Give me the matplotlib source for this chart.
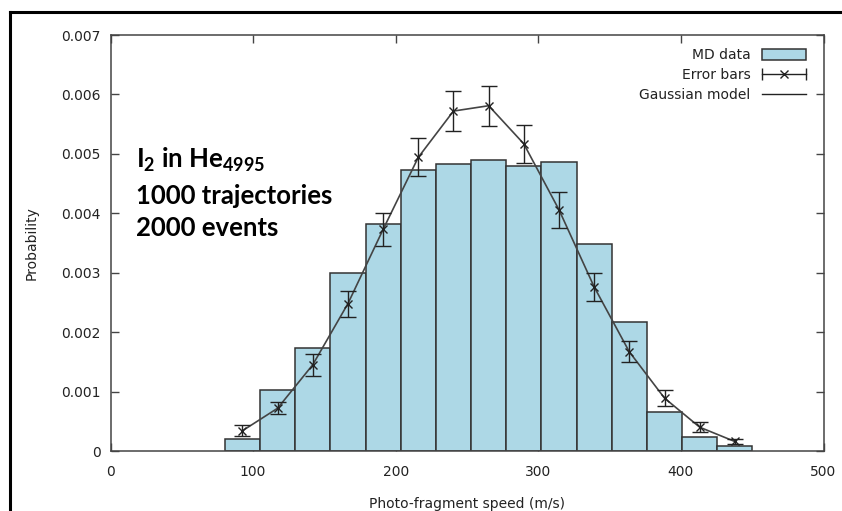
import matplotlib
matplotlib.use("Agg")
import matplotlib.pyplot as plt
from matplotlib.lines import Line2D
from matplotlib.patches import Patch
from matplotlib.legend_handler import HandlerLine2D, HandlerTuple

# ---- data ----
speeds = [92.5, 117.2, 141.8, 166.5, 191.2, 215.8, 240.5, 265.2, 289.8,
          314.5, 339.2, 363.8, 388.5, 413.2, 437.8]
bin_width = 24.67
md_prob = [0.00020, 0.00102, 0.00173, 0.00300, 0.00382, 0.00473, 0.00483,
           0.00490, 0.00480, 0.00486, 0.00349, 0.00217, 0.00066, 0.00024,
           0.00008]
err_prob = [0.00034, 0.00072, 0.00145, 0.00248, 0.00373, 0.00494, 0.00572,
            0.00581, 0.00517, 0.00406, 0.00276, 0.00167, 0.00089, 0.00040,
            0.00016]
err_size = [0.00009, 0.00010, 0.00018, 0.00022, 0.00028, 0.00032, 0.00034,
            0.00034, 0.00032, 0.00030, 0.00023, 0.00018, 0.00014, 0.00008,
            0.00005]
gauss_model = [0.00034, 0.00072, 0.00145, 0.00248, 0.00373, 0.00494, 0.00572,
               0.00581, 0.00517, 0.00406, 0.00276, 0.00167, 0.00089, 0.00040,
               0.00016]
xticks = [0, 100, 200, 300, 400, 500]
yticks = [0, 0.001, 0.002, 0.003, 0.004, 0.005, 0.006, 0.007]
ytick_labels = ["0", "0.001", "0.002", "0.003", "0.004", "0.005", "0.006", "0.007"]
annot_lines = [r"I$_2$ in He$_{4995}$", "1000 trajectories", "2000 events"]

plt.rcParams['font.family'] = ['DejaVu Sans']
plt.rcParams['mathtext.fontset'] = 'custom'
plt.rcParams['mathtext.rm'] = 'Lato:bold'
plt.rcParams['mathtext.it'] = 'Lato:bold'
plt.rcParams['mathtext.bf'] = 'Lato:bold'
plt.rcParams['mathtext.default'] = 'rm'

W, H = 842, 511
fig = plt.figure(figsize=(W / 100, H / 100), dpi=100)
ax = fig.add_axes([110.5 / W, 60 / H, 713 / W, 416 / H])

bar_color = '#add8e6'
edge = '#333333'
ax.bar(speeds, md_prob, width=bin_width, color=bar_color, edgecolor=edge,
       linewidth=1.1, zorder=2)
ax.plot(speeds, gauss_model, color='#444444', lw=1.2, zorder=3)
ax.errorbar(speeds, err_prob, yerr=err_size, fmt='x', color='#222222',
            ms=6, mew=1.0, elinewidth=1.0, capsize=6, capthick=1.0, zorder=4)

ax.set_xlim(0, 500)
ax.set_ylim(0, 0.007)
ax.set_xticks(xticks)
ax.set_yticks(yticks)
ax.set_yticklabels(ytick_labels)
ax.tick_params(direction='in', length=6, width=1, color='#444444',
               top=True, right=True, labelsize=10, labelcolor='#222222')
ax.tick_params(axis='x', pad=10)
ax.tick_params(axis='y', pad=7)
for s in ax.spines.values():
    s.set_color('#444444')
    s.set_linewidth(1.1)

ax.set_ylabel("Probability", fontsize=10, color='#222222')
ax.yaxis.set_label_coords(-0.101, 0.5)
ax.set_xlabel("Photo-fragment speed (m/s)", fontsize=10, color='#222222')
ax.xaxis.set_label_coords(0.5, -0.11)

ys = [0.680, 0.593, 0.517]
for t, yy in zip(annot_lines, ys):
    ax.text(0.0358, yy, t, transform=ax.transAxes, fontsize=18.5,
            family='Lato', fontweight='bold', va='baseline', ha='left',
            color='black')

# legend
h_md = Patch(facecolor=bar_color, edgecolor=edge, linewidth=1.1)
h_caps = Line2D([], [], color='#222222', lw=1.0, marker='|', ms=8, mew=1.0)
h_x = Line2D([], [], color='#222222', ls='none', marker='x', ms=6, mew=1.0)
h_g = Line2D([], [], color='#222222', lw=1.0)
leg = ax.legend([h_md, (h_caps, h_x), h_g],
                ["MD data", "Error bars", "Gaussian model"],
                handler_map={h_caps: HandlerLine2D(numpoints=2, marker_pad=0.0),
                             h_x: HandlerLine2D(numpoints=1),
                             tuple: HandlerTuple(ndivide=1, pad=0)},
                loc='upper right', bbox_to_anchor=(0.9755, 0.968),
                frameon=False, markerfirst=False, fontsize=10,
                handlelength=3.2, handleheight=0.8, handletextpad=0.8,
                labelspacing=0.42, borderpad=0, borderaxespad=0)
for t in leg.get_texts():
    t.set_color('#222222')

# outer frame of the screenshot
fig.add_artist(Line2D([10 / W, 10 / W], [0, (H - 12) / H], color='black',
                      lw=2.2, transform=fig.transFigure))
fig.add_artist(Line2D([10 / W, 1], [(H - 12) / H, (H - 12) / H], color='black',
                      lw=2.2, transform=fig.transFigure))

fig.savefig("out.png", dpi=100)
